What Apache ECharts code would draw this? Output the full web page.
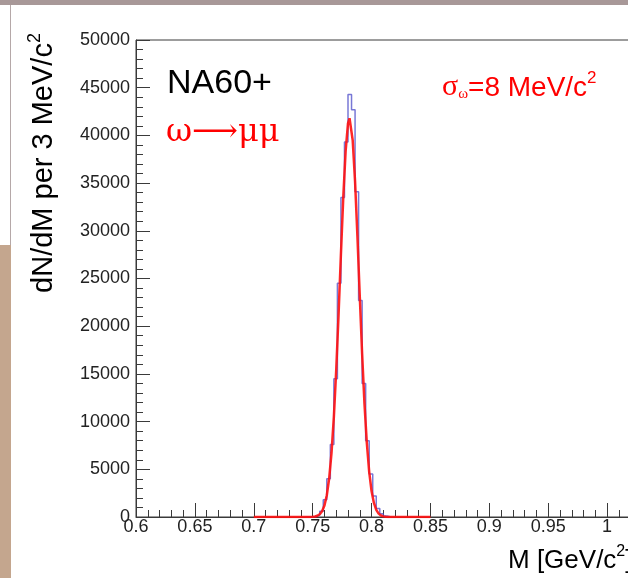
<!DOCTYPE html>
<html>
<head>
<meta charset="utf-8">
<script src="https://cdn.jsdelivr.net/npm/echarts@6/dist/echarts.min.js"></script>
<style>
  html, body { margin: 0; padding: 0; background: #fff; }
  #c1 { width: 628px; height: 578px; }
</style>
</head>
<body>
<div id="c1"></div>
<script>
// histogram, 3 MeV bins: left edge of each bin (GeV) and counts
var binEdges = [0.744, 0.747, 0.750, 0.753, 0.756, 0.759, 0.762, 0.765, 0.768, 0.771,
                0.774, 0.777, 0.780, 0.783, 0.786, 0.789, 0.792, 0.795, 0.798, 0.801,
                0.804, 0.807, 0.810, 0.813, 0.816];
var binCounts = [0, 20, 60, 200, 600, 1800, 4000, 7600, 14500, 24500,
                 33500, 39300, 44300, 42700, 34100, 22700, 14000, 8000, 4500, 2200,
                 900, 350, 100, 30, 0];

// fit curve (red)
var fitMass = [0.700, 0.740, 0.744, 0.748, 0.750, 0.752, 0.754, 0.756, 0.758, 0.760,
               0.762, 0.764, 0.766, 0.768, 0.770, 0.772, 0.774, 0.776, 0.778, 0.780,
               0.7813, 0.782, 0.784, 0.786, 0.788, 0.790, 0.792, 0.794, 0.796, 0.798,
               0.800, 0.802, 0.804, 0.806, 0.808, 0.810, 0.812, 0.814, 0.818, 0.850];
var fitValue = [0, 0, 1, 7, 20, 51, 124, 282, 602, 1206,
                2278, 4034, 6713, 10497, 15411, 21264, 27563, 33561, 38389, 41253,
                41800, 41640, 39484, 35175, 29436, 23140, 17088, 11855, 7729, 4732,
                2721, 1471, 746, 356, 159, 67, 27, 10, 0, 0];

var xTicks = { min: 0.6, max: 1.05, step: 0.05 };
var yTicks = { min: 0, max: 50000, step: 5000 };

var histData = binEdges.map(function (e, i) { return [e, binCounts[i]]; });
var fitData = fitMass.map(function (m, i) { return [m, fitValue[i]]; });

var chartDom = document.getElementById('c1');
var myChart = echarts.init(chartDom);
var axisColor = '#3a3a3a';
var labelFont = 'Liberation Sans, Arial, sans-serif';

var option = {
    animation: false,
    grid: {
        left: 136,
        top: 40,
        width: 530,
        height: 477,
        outerBoundsMode: 'none',
        containLabel: false,
        show: true,
        borderColor: axisColor,
        borderWidth: 1
    },
    xAxis: {
        type: 'value',
        min: xTicks.min,
        max: xTicks.max,
        interval: xTicks.step,
        axisLine: { lineStyle: { color: axisColor } },
        axisTick: { inside: true, length: 14, lineStyle: { color: axisColor } },
        minorTick: { show: true, splitNumber: 5, length: 7, lineStyle: { color: axisColor } },
        splitLine: { show: false },
        axisLabel: {
            margin: 1,
            color: '#222',
            fontSize: 18,
            fontFamily: labelFont,
            formatter: function (v) { return String(+v.toFixed(2)); }
        }
    },
    yAxis: {
        type: 'value',
        min: yTicks.min,
        max: yTicks.max,
        interval: yTicks.step,
        axisLine: { show: true, lineStyle: { color: axisColor } },
        axisTick: { show: true, inside: true, length: 14, lineStyle: { color: axisColor } },
        minorTick: { show: true, splitNumber: 5, length: 7, lineStyle: { color: axisColor } },
        splitLine: { show: false },
        axisLabel: {
            margin: 6,
            color: '#222',
            fontSize: 18,
            fontFamily: labelFont,
            formatter: function (v) { return String(v); }
        }
    },
    series: [
        {
            name: 'hist',
            type: 'line',
            step: 'end',
            data: histData,
            showSymbol: false,
            lineStyle: { color: '#4b4bc8', width: 1.5, opacity: 0.75 },
            z: 3
        },
        {
            name: 'fit',
            type: 'line',
            data: fitData,
            showSymbol: false,
            lineStyle: { color: '#ff1010', width: 2.5, opacity: 0.9 },
            z: 4
        }
    ],
    graphic: [
        // slide decorations
        { type: 'rect', shape: { x: 0, y: 0, width: 628, height: 5 }, style: { fill: '#a89898' }, silent: true },
        { type: 'rect', shape: { x: 0, y: 245, width: 11, height: 333 }, style: { fill: '#c4a68e' }, silent: true },
        { type: 'line', shape: { x1: 10.5, y1: 5, x2: 10.5, y2: 245 }, style: { stroke: '#b5a8a8', lineWidth: 1 }, silent: true },
        // axis titles
        {
            type: 'text', x: 42, y: 163, rotation: Math.PI / 2,
            style: {
                text: '{m|dN/dM per 3 MeV/c}{p|2}',
                fill: '#000', align: 'center', verticalAlign: 'middle',
                rich: {
                    m: { font: '29px Liberation Sans, Arial, sans-serif', fill: '#000', verticalAlign: 'bottom', lineHeight: 32 },
                    p: { font: '18px Liberation Sans, Arial, sans-serif', fill: '#000', verticalAlign: 'top', lineHeight: 32 }
                }
            }
        },
        {
            type: 'text', x: 508, y: 559,
            style: {
                text: '{m|M [GeV/c}{p|2}{m|]}',
                fill: '#000', align: 'left', verticalAlign: 'middle',
                rich: {
                    m: { font: '26px Liberation Sans, Arial, sans-serif', fill: '#000', verticalAlign: 'bottom', lineHeight: 30 },
                    p: { font: '16px Liberation Sans, Arial, sans-serif', fill: '#000', verticalAlign: 'top', lineHeight: 30 }
                }
            }
        },
        // annotations
        {
            type: 'text', x: 167, y: 84,
            style: {
                text: 'NA60+',
                font: '34px Liberation Sans, Arial, sans-serif',
                fill: '#000', align: 'left', verticalAlign: 'middle'
            }
        },
        {
            type: 'text', x: 166, y: 133,
            style: {
                text: 'ω⟶μμ',
                font: '32px DejaVu Serif, Liberation Serif, serif',
                fill: '#ff0000', align: 'left', verticalAlign: 'middle'
            }
        },
        {
            type: 'text', x: 442, y: 86,
            style: {
                text: '{g|σ}{s|ω}{t|=8 MeV/c}{p|2}',
                fill: '#ff0000', align: 'left', verticalAlign: 'middle',
                rich: {
                    g: { font: '30px Liberation Serif, serif', fill: '#ff0000', verticalAlign: 'bottom', lineHeight: 32 },
                    s: { font: '15px Liberation Serif, serif', fill: '#ff0000', verticalAlign: 'bottom', lineHeight: 32 },
                    t: { font: '28px Liberation Sans, Arial, sans-serif', fill: '#ff0000', verticalAlign: 'bottom', lineHeight: 32 },
                    p: { font: '17px Liberation Sans, Arial, sans-serif', fill: '#ff0000', verticalAlign: 'top', lineHeight: 32 }
                }
            }
        }
    ]
};

myChart.setOption(option);
</script>
</body>
</html>
